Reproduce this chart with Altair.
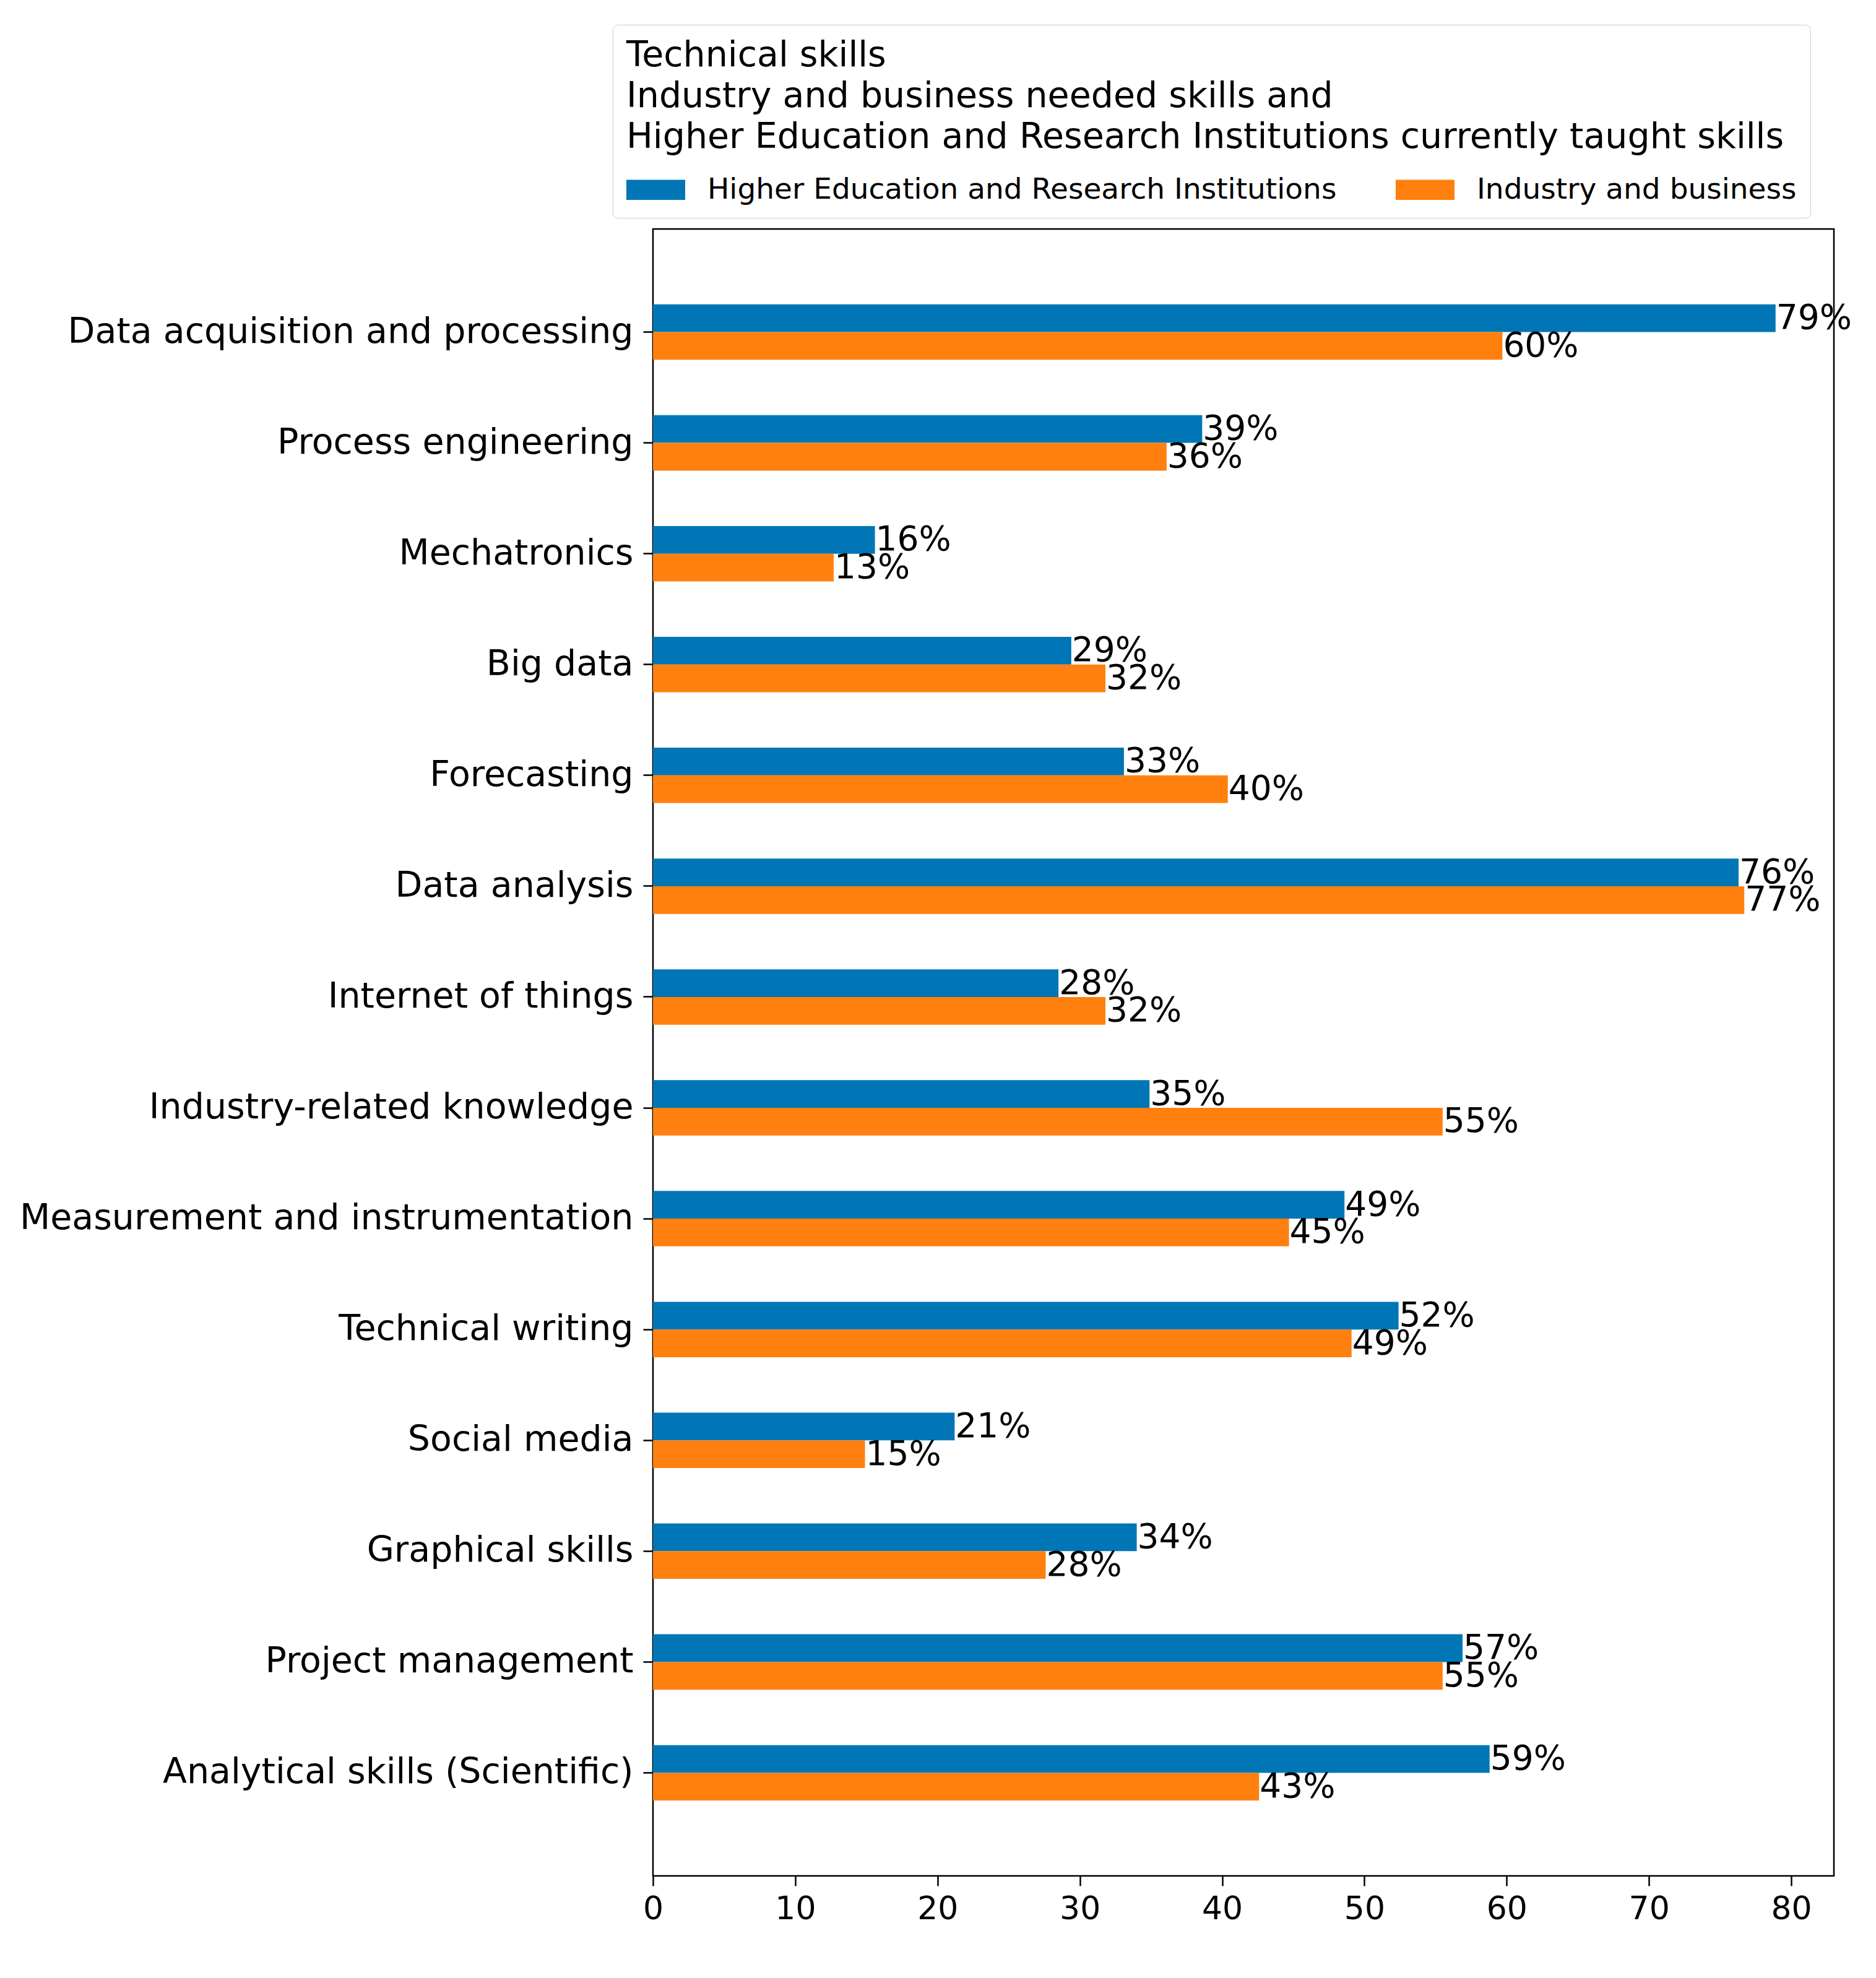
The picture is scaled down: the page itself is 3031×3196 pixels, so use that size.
import altair as alt
import pandas as pd

categories = [
    "Data acquisition and processing",
    "Process engineering",
    "Mechatronics",
    "Big data",
    "Forecasting",
    "Data analysis",
    "Internet of things",
    "Industry-related knowledge",
    "Measurement and instrumentation",
    "Technical writing",
    "Social media",
    "Graphical skills",
    "Project management",
    "Analytical skills (Scientific)",
]
series = ["Higher Education and Research Institutions", "Industry and business"]
he_values = [78.9, 38.6, 15.6, 29.4, 33.1, 76.3, 28.5, 34.9, 48.6, 52.4, 21.2, 34.0, 56.9, 58.8]
ind_values = [59.7, 36.1, 12.7, 31.8, 40.4, 76.7, 31.8, 55.5, 44.7, 49.1, 14.9, 27.6, 55.5, 42.6]
he_labels = ["79%", "39%", "16%", "29%", "33%", "76%", "28%", "35%", "49%", "52%", "21%", "34%", "57%", "59%"]
ind_labels = ["60%", "36%", "13%", "32%", "40%", "77%", "32%", "55%", "45%", "49%", "15%", "28%", "55%", "43%"]
x_ticks = [0, 10, 20, 30, 40, 50, 60, 70, 80]
colors = ["#0076B6", "#FF800E"]
legend_title = [
    "Technical skills",
    "Industry and business needed skills and",
    "Higher Education and Research Institutions currently taught skills",
]

rows = []
for c, v, l in zip(categories, he_values, he_labels):
    rows.append({"skill": c, "series": series[0], "value": v, "label": l})
for c, v, l in zip(categories, ind_values, ind_labels):
    rows.append({"skill": c, "series": series[1], "value": v, "label": l})
df = pd.DataFrame(rows)

FONT = "DejaVu Sans"

y_enc = alt.Y(
    "skill:N",
    sort=categories,
    title="",
    scale=alt.Scale(paddingInner=0.5, paddingOuter=0.68),
    axis=alt.Axis(
        labelFontSize=57,
        labelColor="black",
        labelFont=FONT,
        tickSize=16,
        tickWidth=2.5,
        tickColor="black",
        labelPadding=16,
        domain=False,
        labelLimit=3000,
    ),
)
yoff_enc = alt.YOffset(
    "series:N",
    sort=series,
    scale=alt.Scale(paddingInner=0, paddingOuter=0),
)
x_enc = alt.X(
    "value:Q",
    title="",
    scale=alt.Scale(domain=[0, 83], nice=False),
    axis=alt.Axis(
        values=x_ticks,
        labelFontSize=52,
        labelColor="black",
        labelFont=FONT,
        tickSize=16,
        tickWidth=2.5,
        tickColor="black",
        labelPadding=12,
        grid=False,
        domain=False,
        labelFlush=False,
    ),
)

bars = alt.Chart(df).mark_bar().encode(
    y=y_enc,
    yOffset=yoff_enc,
    x=x_enc,
    color=alt.Color(
        "series:N",
        sort=series,
        scale=alt.Scale(domain=series, range=colors),
        legend=alt.Legend(
            title=legend_title,
            orient="none",
            legendX=-65,
            legendY=-330,
            direction="horizontal",
            columns=2,
            columnPadding=95,
            titleFontSize=57,
            titleFontWeight="normal",
            titleFont=FONT,
            titleColor="black",
            titleLineHeight=66,
            titlePadding=8,
            titleLimit=3000,
            labelFontSize=47,
            labelFont=FONT,
            labelColor="black",
            labelLimit=3000,
            labelOffset=36,
            symbolType="M-1,-0.34L1,-0.34L1,0.34L-1,0.34Z",
            symbolSize=9025,
            symbolStrokeWidth=0,
            symbolOpacity=1,
            padding=22,
            strokeColor="#cccccc",
            fillColor="white",
            cornerRadius=8,
        ),
    ),
)

texts = alt.Chart(df).mark_text(
    align="left", baseline="middle", dx=1, fontSize=55, font=FONT, color="black"
).encode(
    y=alt.Y("skill:N", sort=categories),
    yOffset=alt.YOffset("series:N", sort=series),
    x=alt.X("value:Q"),
    text="label:N",
)

chart = (
    alt.layer(bars, texts)
    .properties(
        width=1908,
        height=2661,
        autosize=alt.AutoSizeParams(type="none"),
        padding={"left": 1047, "top": 362, "right": 60, "bottom": 157},
        background="white",
    )
    .configure_view(stroke="black", strokeWidth=2.5)
)

chart.save("out.html", embed_options={"renderer": "svg", "actions": False})
